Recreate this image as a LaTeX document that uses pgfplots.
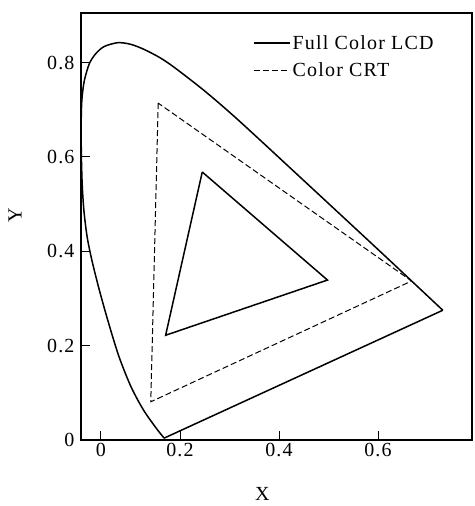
\documentclass[border=0pt]{standalone}
\usepackage{fontspec}
\setmainfont{Liberation Serif}[LetterSpace=6]
\usepackage{pgfplots}
\pgfplotsset{compat=1.18}
\begin{document}
\begin{tikzpicture}
\begin{axis}[
  scale only axis, width=391bp, height=427bp,
  xmin=0, xmax=0.79, ymin=0, ymax=0.905,
  xtick={0.04,0.2,0.4,0.6}, xticklabels={0,0.2,0.4,0.6},
  ytick={0,0.2,0.4,0.6,0.8}, yticklabels={0,0.2,0.4,0.6,0.8},
  tick pos=left,
  major tick length=9bp,
  tick style={line width=0.9bp, black},
  axis line style={line width=1.2bp},
  tick label style={font=\fontsize{20bp}{22bp}\selectfont},
  yticklabel style={xshift=-3bp},
  xlabel={X}, ylabel={Y},
  label style={font=\fontsize{20bp}{22bp}\selectfont},
  xlabel style={at={(axis description cs:0.464,0)}, anchor=north, yshift=-44bp},
  ylabel style={at={(axis description cs:0,0.527)}, anchor=center, yshift=66bp},
  legend style={at={(axis description cs:0.432,0.957)}, anchor=north west,
    draw=none, fill=none, font=\fontsize{20bp}{22bp}\selectfont, row sep=8bp},
  legend cell align=left,
  legend image code/.code={\draw[#1] (0bp,0bp) -- (30bp,0bp); \path (0bp,0bp) -- (36bp,0bp);},
]
% Full Color LCD triangle
\addplot[black, line width=1.5bp] coordinates {
  (0.245,0.568) (0.171,0.222) (0.498,0.339) (0.245,0.568)};
\addlegendentry{Full Color LCD}
% Color CRT triangle
\addplot[black, line width=1bp, dash pattern=on 6bp off 3bp] coordinates {
  (0.156,0.714) (0.141,0.081) (0.668,0.337) (0.156,0.714)};
\addlegendentry{Color CRT}
% spectral locus
\addplot[black, line width=1.5bp, smooth, forget plot] coordinates {
  (0.168,0.004) (0.152,0.025) (0.126,0.064) (0.101,0.113)
  (0.077,0.176) (0.056,0.247) (0.037,0.318) (0.022,0.381)
  (0.0125,0.430) (0.006,0.485) (0.0025,0.540) (0.0008,0.600)
  (0.0003,0.657) (0.0008,0.699) (0.0025,0.730) (0.007,0.763)
  (0.017,0.798) (0.030,0.819) (0.047,0.834) (0.074,0.842)
  (0.099,0.839) (0.125,0.829) (0.160,0.810) (0.192,0.787)
  (0.253,0.737) (0.321,0.675) (0.45,0.550) (0.604,0.400)
  (0.668,0.337) (0.731,0.275)};
% purple line
\addplot[black, line width=1.5bp, forget plot] coordinates {
  (0.731,0.275) (0.168,0.004)};
\end{axis}
\pgfresetboundingbox
\useasboundingbox (current axis.south west) ++(-81bp,-66bp) rectangle ++(475bp,506bp);
\end{tikzpicture}
\end{document}
